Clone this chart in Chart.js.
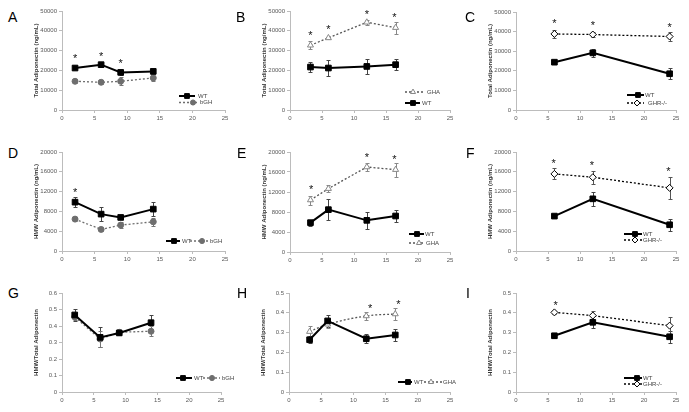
<!DOCTYPE html>
<html><head><meta charset="utf-8">
<script src="https://cdn.jsdelivr.net/npm/chart.js@4.4.0/dist/chart.umd.min.js"></script>
<style>
body{margin:0;background:#fff;width:689px;height:412px;overflow:hidden;position:relative;font-family:Arial,"Liberation Sans",sans-serif}
canvas{position:absolute}
.lbl{position:absolute;font-size:14px;line-height:16px;color:#000;font-family:Arial,"Liberation Sans",sans-serif}
</style></head><body>
<script>
// ---------- DATA ----------
const xBGH = [2, 6, 9, 14];
const xGHA = [3.2, 6, 12, 16.5];
const xGHR = [6, 12, 24];
const xTicks = [0, 5, 10, 15, 20, 25];

// Panel A: total adiponectin, bGH study
const aWT = [21200, 22900, 19000, 19500];
const aWTerr = [700, 700, 1200, 1100];
const aBGH = [14500, 14000, 14500, 16200];
const aBGHerr = [900, 700, 2000, 1800];
const aStars = [[2, 27300], [6, 28300], [9, 24600]];

// Panel B: total adiponectin, GHA study
const bGHA = [32700, 36400, 44300, 41600];
const bGHAerr = [2000, 700, 1400, 3000];
const bWT = [21700, 21200, 22000, 22900];
const bWTerr = [2300, 4000, 4000, 2700];
const bStars = [[3.2, 38700], [6, 41700], [12, 49500], [16.3, 48100]];

// Panel C: total adiponectin, GHR-/- study
const cWT = [24400, 29150, 18500];
const cWTerr = [500, 2000, 2700];
const cGHR = [38800, 38500, 37500];
const cGHRerr = [2200, 1200, 2500];
const cStars = [[6, 45300], [12, 44400], [24, 43600]];

// Panel D: HMW adiponectin, bGH
const dWT = [9870, 7450, 6780, 8460];
const dWTerr = [1000, 1450, 300, 1450];
const dBGH = [6440, 4360, 5230, 5900];
const dBGHerr = [300, 250, 650, 850];
const dStars = [[2, 12400]];

// Panel E: HMW adiponectin, GHA
const eGHA = [10400, 12670, 17000, 16470];
const eGHAerr = [900, 650, 750, 1400];
const eWT = [5870, 8470, 6330, 7200];
const eWTerr = [600, 2100, 1700, 1250];
const eStars = [[3.3, 12930], [12, 19330], [16.3, 18930]];

// Panel F: HMW adiponectin, GHR-/-
const fWT = [7050, 10540, 5300];
const fWTerr = [450, 1400, 1250];
const fGHR = [15570, 14900, 12750];
const fGHRerr = [1100, 1300, 2300];
const fStars = [[5.9, 18120], [11.85, 17850], [23.8, 16580]];

// Panel G: HMW/Total, bGH
const gWT = [0.467, 0.331, 0.358, 0.420];
const gWTerr = [0.035, 0.06, 0.01, 0.045];
const gBGH = [0.455, 0.321, 0.362, 0.368];
const gBGHerr = [0.02, 0.05, 0.01, 0.03];

// Panel H: HMW/Total, GHA
const hWT = [0.264, 0.359, 0.269, 0.288];
const hWTerr = [0.017, 0.032, 0.024, 0.028];
const hGHA = [0.305, 0.342, 0.384, 0.394];
const hGHAerr = [0.027, 0.017, 0.02, 0.028];
const hStars = [[12.6, 0.436], [17, 0.455]];

// Panel I: HMW/Total, GHR-/-
const iWT = [0.284, 0.352, 0.279];
const iWTerr = [0.012, 0.03, 0.03];
const iGHR = [0.402, 0.386, 0.335];
const iGHRerr = [0.006, 0.025, 0.042];
const iStars = [[6.2, 0.45]];

const titleTotal = 'Total Adiponectin (ng/mL)';
const titleHMW = 'HMW Adiponectin (ng/mL)';
const titleRatio = 'HMW/Total Adiponectin';

// ---------- STYLES ----------
const ST = {
  WT:  {label:'WT', borderColor:'#000', backgroundColor:'#000', pointBorderColor:'#000', borderWidth:2, pointStyle:'rect', pointRadius:4, errColor:'#444'},
  bGH: {label:'bGH', borderColor:'#6e6e6e', backgroundColor:'#6e6e6e', pointBorderColor:'#6e6e6e', borderWidth:1.3, borderDash:[2,2], pointStyle:'circle', pointRadius:3, errColor:'#777'},
  GHA: {label:'GHA', borderColor:'#555', backgroundColor:'#fff', pointBorderColor:'#888', borderWidth:1.3, borderDash:[2,2], pointStyle:'triangle', pointRadius:3.5, errColor:'#888'},
  GHR: {label:'GHR-/-', borderColor:'#000', backgroundColor:'#fff', pointBorderColor:'#000', borderWidth:1.3, borderDash:[2,2], pointStyle:'rectRot', pointRadius:3.5, errColor:'#555'}
};

const Y_W = 36, PAD_T = 10, PAD_R = 30, X_H = 20;
const extrasMap = {};

const extras = {
  id: 'extras',
  beforeDatasetsDraw(chart) {
    const {ctx} = chart, x = chart.scales.x, y = chart.scales.y;
    chart.data.datasets.forEach(ds => {
      if (!ds.errors) return;
      ctx.save();
      ctx.strokeStyle = ds.errColor || '#666';
      ctx.lineWidth = 1;
      ds.data.forEach((p, i) => {
        const e = ds.errors[i];
        const px = Math.round(x.getPixelForValue(p.x)) + 0.5;
        const y1 = Math.round(y.getPixelForValue(p.y + e)) + 0.5;
        const y2 = Math.round(y.getPixelForValue(p.y - e)) + 0.5;
        ctx.beginPath();
        ctx.moveTo(px, y1); ctx.lineTo(px, y2);
        ctx.moveTo(px - 2, y1); ctx.lineTo(px + 2, y1);
        ctx.moveTo(px - 2, y2); ctx.lineTo(px + 2, y2);
        ctx.stroke();
      });
      ctx.restore();
    });
  },
  afterDraw(chart) {
    const ex = extrasMap[chart.canvas.id];
    if (!ex) return;
    const {ctx} = chart, x = chart.scales.x, y = chart.scales.y;
    ctx.save();
    ctx.fillStyle = '#111';
    ctx.font = '11px Arial, "Liberation Sans", sans-serif';
    ctx.textAlign = 'center';
    ctx.textBaseline = 'alphabetic';
    (ex.stars || []).forEach(s => {
      ctx.fillText('*', x.getPixelForValue(s[0]), y.getPixelForValue(s[1]) + 6);
    });
    (ex.legend || []).forEach(it => {
      const st = ST[it.s];
      const ox = ex.ox, oy = ex.oy;
      const yy = it.y - oy;
      ctx.save();
      ctx.strokeStyle = st.borderColor;
      ctx.lineWidth = st.borderWidth;
      ctx.setLineDash(st.borderDash || []);
      ctx.beginPath(); ctx.moveTo(it.x1 - ox, yy); ctx.lineTo(it.x2 - ox, yy); ctx.stroke();
      ctx.setLineDash([]);
      ctx.fillStyle = st.backgroundColor;
      ctx.strokeStyle = st.pointBorderColor;
      ctx.lineWidth = 1;
      Chart.helpers.drawPoint(ctx, {pointStyle: st.pointStyle, radius: st.pointRadius * 0.85, rotation: 0, borderWidth: 1}, it.m - ox, yy);
      ctx.fillStyle = '#444';
      ctx.font = '6px Arial, "Liberation Sans", sans-serif';
      ctx.textAlign = 'left';
      ctx.textBaseline = 'middle';
      ctx.fillText(st.label, it.t - ox, yy);
      ctx.restore();
    });
    ctx.restore();
  }
};

function ds(style, xs, ys, errs, extra) {
  const s = ST[style];
  return Object.assign({
    label: s.label,
    data: xs.map((v, i) => ({x: v, y: ys[i]})),
    errors: errs,
    errColor: s.errColor,
    borderColor: s.borderColor,
    backgroundColor: s.backgroundColor,
    pointBorderColor: s.pointBorderColor,
    pointBackgroundColor: s.backgroundColor,
    borderWidth: s.borderWidth,
    borderDash: s.borderDash || [],
    pointStyle: s.pointStyle,
    pointRadius: s.pointRadius,
    pointBorderWidth: 1,
    tension: 0,
    fill: false
  }, extra || {});
}

function fmt(v) { return String(+(+v).toFixed(2)); }

function panel(id, L, T, R, B, yMax, yStep, title, datasets, ex, letter, lx, ly) {
  const c = document.createElement('canvas');
  c.id = id;
  const w = R - L + Y_W + PAD_R, h = B - T + PAD_T + X_H;
  const cl = L - Y_W, ct = T - PAD_T;
  c.width = w; c.height = h;
  c.style.left = cl + 'px'; c.style.top = ct + 'px';
  c.style.width = w + 'px'; c.style.height = h + 'px';
  document.body.appendChild(c);
  ex.ox = cl; ex.oy = ct;
  extrasMap[id] = ex;
  const tickFont = {size: 6, family: 'Arial, "Liberation Sans", sans-serif'};
  new Chart(c, {
    type: 'line',
    data: {datasets},
    options: {
      responsive: false, animation: false, devicePixelRatio: 1,
      layout: {padding: {left: 0, right: PAD_R, top: PAD_T, bottom: 0}},
      plugins: {legend: {display: false}, tooltip: {enabled: false}},
      scales: {
        x: {
          type: 'linear', min: 0, max: 25,
          afterBuildTicks: s => { s.ticks = xTicks.map(v => ({value: v})); },
          afterFit: s => { s.height = X_H; },
          ticks: {font: tickFont, color: '#595959', padding: 2, maxRotation: 0, callback: fmt},
          grid: {drawOnChartArea: false, drawTicks: true, tickLength: 3, color: '#bcbcbc'},
          border: {color: '#bcbcbc', width: 1}
        },
        y: {
          type: 'linear', min: 0, max: yMax,
          ticks: {stepSize: yStep, font: tickFont, color: '#595959', padding: 2, callback: fmt},
          afterFit: s => { s.width = Y_W; },
          grid: {drawOnChartArea: false, drawTicks: true, tickLength: 3, color: '#bcbcbc'},
          border: {color: '#bcbcbc', width: 1},
          title: {display: true, text: title, color: '#333', font: {size: 6, weight: 'bold', family: 'Arial, "Liberation Sans", sans-serif'}, padding: {top: 7, bottom: 0}}
        }
      }
    },
    plugins: [extras]
  });
  const d = document.createElement('div');
  d.className = 'lbl'; d.textContent = letter;
  d.style.left = lx + 'px'; d.style.top = ly + 'px';
  document.body.appendChild(d);
}

panel('cA', 62, 11, 225, 110, 50000, 10000, titleTotal,
  [ds('WT', xBGH, aWT, aWTerr), ds('bGH', xBGH, aBGH, aBGHerr)],
  {stars: aStars, legend: [{s:'WT', x1:179, x2:195, m:187, t:198, y:96}, {s:'bGH', x1:179, x2:197, m:193, t:200, y:102.5}]},
  'A', 8, 9);

panel('cB', 290, 11, 450, 110, 50000, 10000, titleTotal,
  [ds('GHA', xGHA, bGHA, bGHAerr), ds('WT', xGHA, bWT, bWTerr)],
  {stars: bStars, legend: [{s:'GHA', x1:405, x2:424, m:413, t:427, y:92}, {s:'WT', x1:405, x2:420, m:413, t:422, y:103}]},
  'B', 236, 9);

panel('cC', 516, 12, 676, 110, 50000, 10000, titleTotal,
  [ds('WT', xGHR, cWT, cWTerr), ds('GHR', xGHR, cGHR, cGHRerr)],
  {stars: cStars, legend: [{s:'WT', x1:627, x2:644, m:638, t:645, y:95}, {s:'GHR', x1:627, x2:644, m:637, t:648, y:103}]},
  'C', 465, 9);

panel('cD', 62, 152, 225, 251, 20000, 4000, titleHMW,
  [ds('WT', xBGH, dWT, dWTerr), ds('bGH', xBGH, dBGH, dBGHerr)],
  {stars: dStars, legend: [{s:'WT', x1:166, x2:180, m:174, t:182, y:241}, {s:'bGH', x1:190, x2:208, m:202, t:210, y:241}]},
  'D', 8, 145);

panel('cE', 290, 152, 450, 252, 20000, 4000, titleHMW,
  [ds('GHA', xGHA, eGHA, eGHAerr), ds('WT', xGHA, eWT, eWTerr)],
  {stars: eStars, legend: [{s:'WT', x1:409, x2:424, m:417, t:425, y:234}, {s:'GHA', x1:409, x2:424, m:419, t:426, y:243}]},
  'E', 237, 145);

panel('cF', 516, 152, 676, 251, 20000, 4000, titleHMW,
  [ds('WT', xGHR, fWT, fWTerr), ds('GHR', xGHR, fGHR, fGHRerr)],
  {stars: fStars, legend: [{s:'WT', x1:624, x2:642, m:635, t:643, y:234}, {s:'GHR', x1:624, x2:642, m:635, t:643, y:240}]},
  'F', 466, 145);

panel('cG', 62, 293, 221, 392, 0.6, 0.1, titleRatio,
  [ds('WT', xBGH, gWT, gWTerr), ds('bGH', xBGH, gBGH, gBGHerr)],
  {stars: [], legend: [{s:'WT', x1:176, x2:192, m:183, t:194, y:378}, {s:'bGH', x1:203, x2:220, m:212, t:222, y:378}]},
  'G', 8, 285);

panel('cH', 289, 293, 450, 392, 0.5, 0.1, titleRatio,
  [ds('WT', xGHA, hWT, hWTerr), ds('GHA', xGHA, hGHA, hGHAerr, {tension: 0.4})],
  {stars: hStars, legend: [{s:'WT', x1:398, x2:412, m:408, t:414, y:382}, {s:'GHA', x1:424, x2:442, m:431, t:443, y:382}]},
  'H', 237, 285);

panel('cI', 516, 293, 676, 392, 0.5, 0.1, titleRatio,
  [ds('WT', xGHR, iWT, iWTerr), ds('GHR', xGHR, iGHR, iGHRerr)],
  {stars: iStars, legend: [{s:'WT', x1:624, x2:642, m:637, t:643, y:378}, {s:'GHR', x1:624, x2:642, m:637, t:643, y:384}]},
  'I', 466, 285);
</script>
</body></html>
